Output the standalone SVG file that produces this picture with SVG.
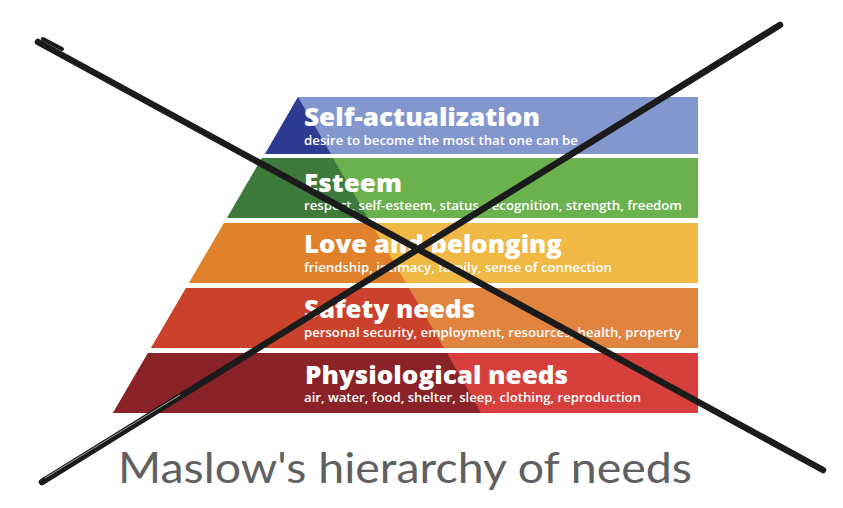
<svg xmlns="http://www.w3.org/2000/svg" width="843" height="508" viewBox="0 0 843 508">
<style>
.t{font-family:"Open Sans",Lato,"Liberation Sans",sans-serif;font-weight:800;font-size:24px;fill:#ffffff}
.s{font-family:"Open Sans","Liberation Sans",sans-serif;font-weight:600;font-size:12.5px;fill:#ffffff}
.cap{font-family:Lato,"Open Sans","Liberation Sans",sans-serif;font-weight:400;font-size:42px;fill:#606060}
.x{stroke:#1b1b1b;stroke-width:6.5;stroke-linecap:round;fill:none}
</style>
<rect x="0" y="0" width="843" height="508" fill="#ffffff"/>
<g id="self-actualization">
<polygon points="298,97 698,97 698,154 265,154" fill="#8397cf"/>
<polygon points="298,97 331,154 265,154" fill="#2d3b93"/>
<text class="t" x="304" y="126" textLength="236" lengthAdjust="spacingAndGlyphs">Self-actualization</text>
<text class="s" x="304" y="145" textLength="274" lengthAdjust="spacingAndGlyphs">desire to become the most that one can be</text>
</g>
<g id="esteem">
<polygon points="262,158 698,158 698,218 227,218" fill="#6bb24e"/>
<polygon points="262,158 333,158 368,218 227,218" fill="#3e7a3c"/>
<text class="t" x="304" y="192" textLength="98" lengthAdjust="spacingAndGlyphs">Esteem</text>
<text class="s" x="304" y="210" textLength="378" lengthAdjust="spacingAndGlyphs">respect, self-esteem, status, recognition, strength, freedom</text>
</g>
<g id="love-and-belonging">
<polygon points="224,223 698,223 698,283 189,283" fill="#f0b844"/>
<polygon points="224,223 371,223 406,283 189,283" fill="#e1812c"/>
<text class="t" x="304" y="253" textLength="258" lengthAdjust="spacingAndGlyphs">Love and belonging</text>
<text class="s" x="304" y="272" textLength="308" lengthAdjust="spacingAndGlyphs">friendship, intimacy, family, sense of connection</text>
</g>
<g id="safety-needs">
<polygon points="186,288 698,288 698,348 151,348" fill="#e08440"/>
<polygon points="186,288 409,288 444,348 151,348" fill="#ca422c"/>
<text class="t" x="304" y="318" textLength="171" lengthAdjust="spacingAndGlyphs">Safety needs</text>
<text class="s" x="304" y="337" textLength="377" lengthAdjust="spacingAndGlyphs">personal security, employment, resources, health, property</text>
</g>
<g id="physiological-needs">
<polygon points="148,353 698,353 698,413 113,413" fill="#d73f3d"/>
<polygon points="148,353 447,353 481,413 113,413" fill="#8a2327"/>
<text class="t" x="305" y="384" textLength="263" lengthAdjust="spacingAndGlyphs">Physiological needs</text>
<text class="s" x="304" y="402" textLength="337" lengthAdjust="spacingAndGlyphs">air, water, food, shelter, sleep, clothing, reproduction</text>
</g>
<g id="title">
<text class="cap" x="118" y="483" textLength="574" lengthAdjust="spacingAndGlyphs">Maslow's hierarchy of needs</text>
</g>
<g id="cross">
<line class="x" x1="38" y1="42" x2="823" y2="470"/>
<line class="x" x1="43" y1="39" x2="62" y2="49" style="stroke-width:4"/>
<line class="x" x1="780" y1="25" x2="42" y2="482"/>
<line x1="45" y1="478" x2="180" y2="395" stroke="#ffffff" stroke-width="0.6"/>
</g>
</svg>
